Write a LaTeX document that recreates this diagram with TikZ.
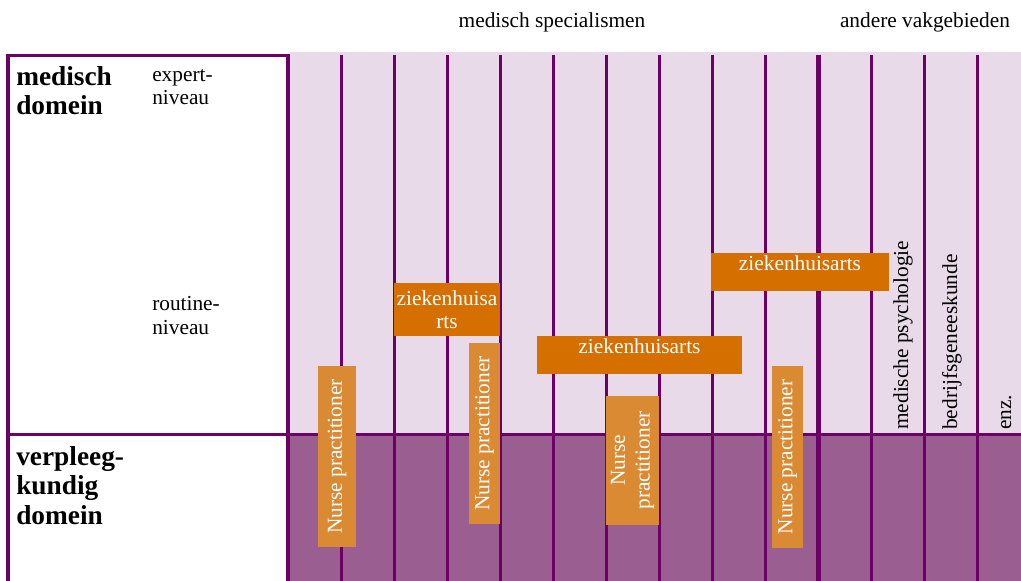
\documentclass[tikz,border=0pt]{standalone}
\usepackage{fontspec}
\setmainfont{Liberation Serif}
\definecolor{paars}{RGB}{109,0,102}
\definecolor{lichtpaars}{RGB}{232,218,232}
\definecolor{donkerpaars}{RGB}{155,94,145}
\definecolor{oranje}{RGB}{212,111,0}
\definecolor{lichtoranje}{RGB}{217,138,51}
\begin{document}
\begin{tikzpicture}[x=0.75pt,y=-0.75pt,
		tekst/.style={font=\fontsize{16}{17.5}\selectfont, inner sep=0pt, align=left},
		kop/.style={font=\fontsize{20.5}{22}\selectfont\bfseries, inner sep=0pt, align=left},
		arts/.style={fill=oranje, text=white, inner sep=0pt, font=\fontsize{16}{17.25}\selectfont},
		balk/.style={arts, text height=13pt, text depth=15.5pt, minimum height=28.5pt},
		nurse/.style={fill=lichtoranje, text=white, inner sep=0pt, rotate=90, align=center, font=\fontsize{16}{18.5}\selectfont},
		vak/.style={rotate=90, anchor=base west, inner sep=0pt, font=\fontsize{16}{17.5}\selectfont}]
	\useasboundingbox (0,0) rectangle (1021,581);
	\fill[lichtpaars] (290,52) rectangle (1021,434);
	\fill[donkerpaars] (290,434) rectangle (1021,581);
	\draw[paars, line width=2.6pt] (8,600) |- (288,55.5) -- (288,600);
	\draw[paars, line width=2.5pt] (8,434.5) -- (1021,434.5);
	\foreach \i in {0,...,12}
		\draw[paars, line width=2.25pt] (341.5+52.97*\i,55) -- (341.5+52.97*\i,581);
	\draw[paars, line width=3.75pt] (818.2,55) -- (818.2,581);

	\node[nurse, minimum width=135.75pt, minimum height=28.5pt] (np1) at (337,456.5) {Nurse practitioner};
	\node[arts, align=center, minimum width=79.5pt, minimum height=39.75pt] (zh1) at (447,309.5) {ziekenhuisa\\rts};
	\node[nurse, minimum width=135.75pt, minimum height=23.25pt] (np2) at (484.5,433.5) {Nurse practitioner};
	\node[balk, minimum width=153.75pt] (zh2) at (639.5,355) {ziekenhuisarts};
	\node[nurse, minimum width=96.75pt, minimum height=39.75pt] (np3) at (632.5,460.5) {Nurse\\practitioner};
	\node[balk, minimum width=133.5pt] (zh3) at (800,272) {ziekenhuisarts};
	\node[nurse, minimum width=136.5pt, minimum height=23.25pt] (np4) at (787.5,457) {Nurse practitioner};

	\node[kop, anchor=base west] (medisch) at (16,115) {medisch\\domein};
	\node[tekst, anchor=base west] (expert) at (152,105) {expert-\\niveau};
	\node[tekst, anchor=base west] (routine) at (152,334) {routine-\\niveau};
	\node[kop, anchor=base west] (verpleeg) at (16,524) {verpleeg-\\kundig\\domein};
	\node[tekst, anchor=base] (specialismen) at (552,28) {medisch specialismen};
	\node[tekst, anchor=base] (vakgebieden) at (925,28) {andere vakgebieden};
	\node[vak] (psychologie) at (908,430) {medische psychologie};
	\node[vak] (bedrijf) at (957,430) {bedrijfsgeneeskunde};
	\node[vak] (enz) at (1011,430) {enz.};
\end{tikzpicture}
\end{document}
